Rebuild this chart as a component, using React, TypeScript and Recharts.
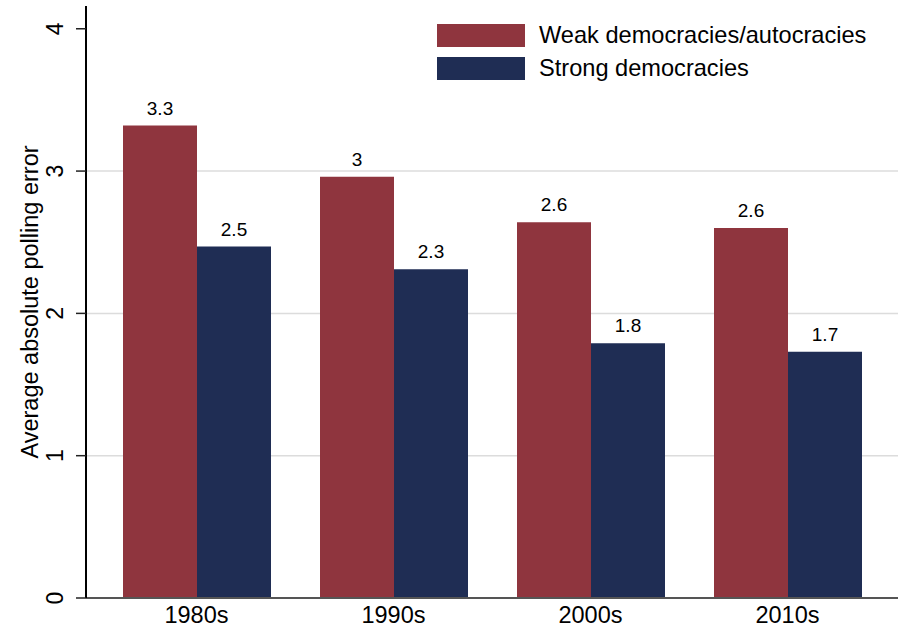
import { BarChart, Bar, XAxis, YAxis, CartesianGrid, LabelList, Label } from 'recharts';

const decades = ['1980s', '1990s', '2000s', '2010s'];
const weakValues = [3.32, 2.96, 2.64, 2.6];
const strongValues = [2.47, 2.31, 1.79, 1.73];
const yTicks = [0, 1, 2, 3, 4];
const gridValues = [1, 2, 3];

const seriesNames = ['Weak democracies/autocracies', 'Strong democracies'];
const RED = '#8f353e';
const BLUE = '#1f2d54';
const FONT = '"Liberation Sans", Arial, Helvetica, sans-serif';

const data = decades.map((d, i) => ({ decade: d, weak: weakValues[i], strong: strongValues[i] }));

const fmt = (v: number) => String(Number(Number(v).toFixed(1)));

function YTick(props: any) {
  const { x, y, payload } = props;
  const bx = x - 11;
  return (
    <text x={bx} y={y} transform={`rotate(-90, ${bx}, ${y})`} textAnchor="middle" fontSize={23} fill="#000" fontFamily={FONT}>
      {payload.value}
    </text>
  );
}

function XTick(props: any) {
  const { x, payload } = props;
  return (
    <text x={x} y={623} textAnchor="middle" fontSize={23.5} fill="#000" fontFamily={FONT}>
      {payload.value}
    </text>
  );
}

export default function App() {
  const colors = [RED, BLUE];
  return (
    <div style={{ position: 'absolute', left: 0, top: 0, width: 903, height: 630, background: '#fff', fontFamily: FONT }}>
      <BarChart
        width={903}
        height={630}
        data={data}
        margin={{ top: 6, right: 5, left: 0, bottom: 0 }}
        barGap={0}
      >
        <CartesianGrid vertical={false} horizontalValues={gridValues} stroke="#dcdcdc" strokeWidth={1.5} />
        <XAxis
          dataKey="decade"
          height={32}
          padding={{ left: 12, right: 12 }}
          tickLine={false}
          axisLine={{ stroke: '#555', strokeWidth: 2 }}
          tick={<XTick />}
          interval={0}
        />
        <XAxis xAxisId="top" dataKey="decade" orientation="top" height={0} tick={false} tickLine={false} axisLine={{ stroke: '#000', strokeWidth: 1 }} />
        <YAxis
          width={86}
          domain={[0, 4.16]}
          ticks={yTicks}
          interval={0}
          tickSize={10}
          tickLine={{ stroke: '#222', strokeWidth: 1.5 }}
          axisLine={{ stroke: '#000', strokeWidth: 2 }}
          tick={<YTick />}
        >
          <Label
            content={() => (
              <text x={38} y={302} transform="rotate(-90, 38, 302)" textAnchor="middle" fontSize={23.5} fill="#000" fontFamily={FONT}>
                Average absolute polling error
              </text>
            )}
          />
        </YAxis>
        <YAxis yAxisId="right" orientation="right" width={0} domain={[0, 4.16]} tick={false} tickLine={false} axisLine={{ stroke: '#000', strokeWidth: 1 }} />
        <Bar dataKey="weak" name={seriesNames[0]} fill={RED} barSize={74} isAnimationActive={false}>
          <LabelList dataKey="weak" position="top" offset={11} formatter={fmt} fontSize={19} fill="#000" fontFamily={FONT} />
        </Bar>
        <Bar dataKey="strong" name={seriesNames[1]} fill={BLUE} barSize={74} isAnimationActive={false}>
          <LabelList dataKey="strong" position="top" offset={11} formatter={fmt} fontSize={19} fill="#000" fontFamily={FONT} />
        </Bar>
      </BarChart>
      <div style={{ position: 'absolute', left: 437, top: 24 }}>
        {seriesNames.map((name, i) => (
          <div key={name} style={{ display: 'flex', alignItems: 'center', height: 23, marginBottom: 10 }}>
            <div style={{ width: 88, height: 23, background: colors[i] }} />
            <span style={{ marginLeft: 14, fontSize: 23.6, color: '#000', lineHeight: '23px' }}>{name}</span>
          </div>
        ))}
      </div>
    </div>
  );
}
